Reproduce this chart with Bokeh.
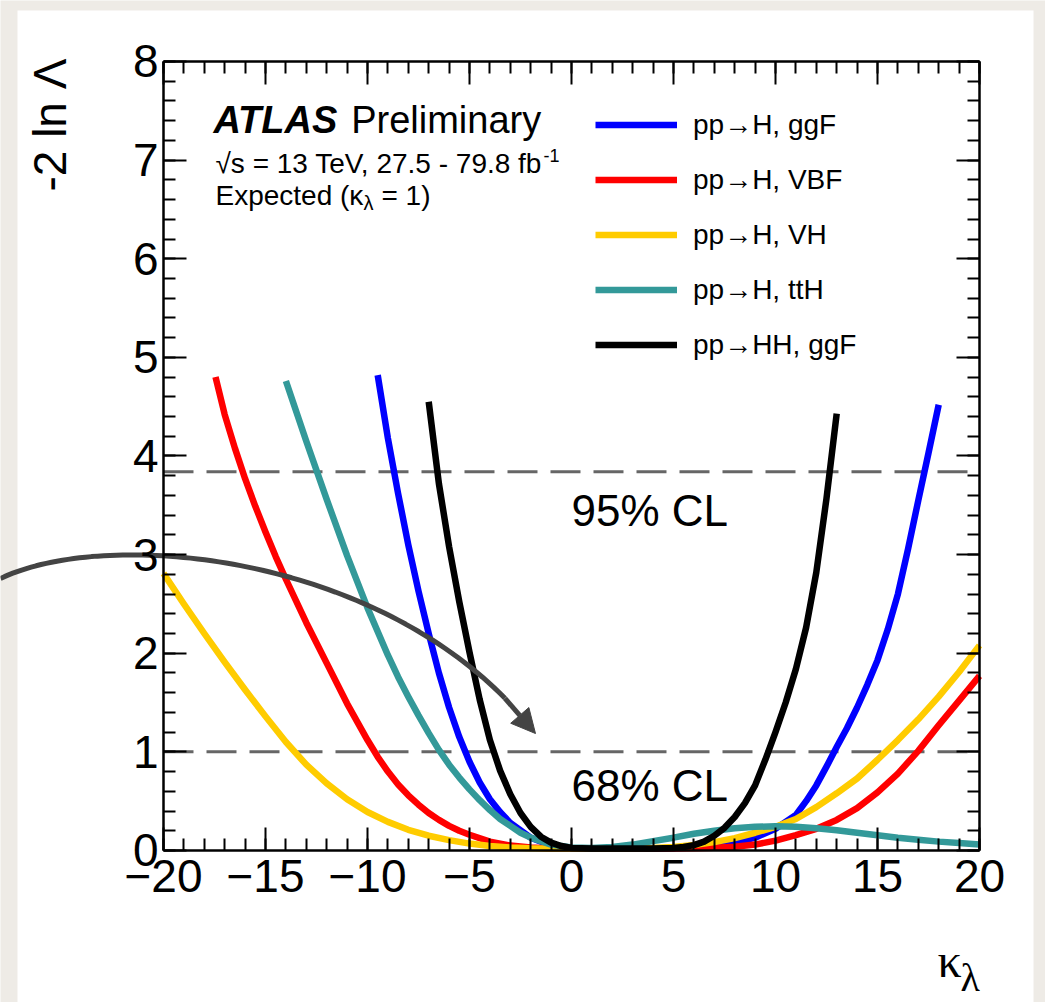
import numpy as np
from bokeh.plotting import figure
from bokeh.models import (Range1d, LinearAxis, FixedTicker, Label, Legend, LegendItem,
                          Arrow, NormalHead, CustomJSTickFormatter)
from bokeh.embed import file_html
from bokeh.resources import INLINE

# ---------------- data ----------------
# pp -> H, ggF
k_ggF = [-9.5, -9, -8.5, -8, -7.5, -7, -6.5, -6, -5.5, -5, -4.5, -4, -3.5, -3, -2, -1, 0, 1, 2,
         3, 4, 5, 6, 7, 8, 9, 10, 11, 11.5, 12, 12.5, 13, 13.5, 14, 14.5, 15, 15.5, 16, 16.5,
         17, 17.5, 18]
nll_ggF = [4.82, 4.18, 3.62, 3.10, 2.63, 2.20, 1.80, 1.45, 1.15, 0.90, 0.69, 0.52, 0.39, 0.28,
           0.13, 0.05, 0.025, 0.02, 0.02, 0.02, 0.02, 0.022, 0.03, 0.045, 0.075, 0.13, 0.22, 0.36,
           0.50, 0.66, 0.85, 1.05, 1.24, 1.45, 1.68, 1.93, 2.24, 2.60, 3.06, 3.55, 4.03, 4.52]

# pp -> H, VBF
k_VBF = [-17.45, -17, -16.5, -16, -15.5, -15, -14.5, -14, -13, -12, -11, -10, -9.5, -9, -8.5,
         -8, -7.5, -7, -6.5, -6, -5.5, -5, -4, -3, -2, -1, 0, 1, 2, 3, 4, 5, 6, 7, 8, 9, 10, 11,
         12, 13, 14, 15, 16, 17, 18, 19, 20]
nll_VBF = [4.80, 4.42, 4.08, 3.77, 3.49, 3.23, 2.98, 2.75, 2.31, 1.90, 1.49, 1.12, 0.95, 0.80,
           0.67, 0.56, 0.465, 0.38, 0.31, 0.25, 0.20, 0.16, 0.09, 0.05, 0.03, 0.02, 0.02, 0.02,
           0.02, 0.02, 0.02, 0.02, 0.022, 0.027, 0.038, 0.06, 0.10, 0.155, 0.22, 0.31, 0.43,
           0.59, 0.78, 1.01, 1.27, 1.52, 1.77]

# pp -> H, VH
k_VH = [-20, -19, -18, -17, -16, -15, -14, -13, -12, -11, -10, -9, -8, -7, -6, -5, -4, -3, -2,
        -1, 0, 1, 2, 3, 4, 5, 6, 7, 8, 9, 10, 11, 12, 13, 14, 15, 16, 17, 18, 19, 20]
nll_VH = [2.81, 2.50, 2.20, 1.91, 1.63, 1.36, 1.10, 0.87, 0.68, 0.52, 0.39, 0.29, 0.21, 0.15,
          0.105, 0.07, 0.045, 0.03, 0.022, 0.02, 0.02, 0.02, 0.02, 0.022, 0.026, 0.035, 0.055,
          0.085, 0.125, 0.18, 0.24, 0.32, 0.44, 0.58, 0.73, 0.92, 1.12, 1.33, 1.56, 1.81, 2.08]

# pp -> H, ttH
k_ttH = [-14, -13, -12, -11, -10, -9, -8.5, -8, -7.5, -7, -6.5, -6, -5.5, -5, -4.5, -4, -3.5,
         -3, -2.5, -2, -1, 0, 1, 2, 3, 4, 5, 6, 7, 8, 9, 10, 11, 12, 13, 14, 15, 16, 17, 18,
         19, 20]
nll_ttH = [4.76, 4.15, 3.56, 2.99, 2.46, 1.98, 1.76, 1.56, 1.37, 1.19, 1.02, 0.87, 0.74, 0.62,
           0.51, 0.41, 0.32, 0.25, 0.18, 0.13, 0.06, 0.03, 0.025, 0.035, 0.06, 0.095, 0.13, 0.17,
           0.20, 0.225, 0.24, 0.245, 0.24, 0.225, 0.205, 0.18, 0.155, 0.13, 0.11, 0.09, 0.075,
           0.06]

# pp -> HH, ggF
k_HH = [-7.0, -6.5, -6.0, -5.5, -5.0, -4.5, -4.0, -3.5, -3.0, -2.5, -2.0, -1.5, -1.0, -0.5, 0,
        1, 2, 3, 4, 5, 5.5, 6, 6.5, 7, 7.5, 8, 8.5, 9, 9.5, 10, 10.5, 11, 11.5, 12, 12.5, 13.0]
nll_HH = [4.55, 3.72, 3.08, 2.52, 2.01, 1.53, 1.12, 0.81, 0.57, 0.38, 0.24, 0.14, 0.08, 0.045,
          0.025, 0.02, 0.02, 0.02, 0.02, 0.025, 0.035, 0.055, 0.09, 0.15, 0.23, 0.34, 0.48, 0.66,
          0.92, 1.20, 1.50, 1.84, 2.26, 2.82, 3.57, 4.43]

series_labels = ["pp\u2192H, ggF", "pp\u2192H, VBF", "pp\u2192H, VH", "pp\u2192H, ttH", "pp\u2192HH, ggF"]
series_colors = ["#0000ff", "#ff0000", "#ffcc00", "#339999", "#000000"]

x_lim = [-20, 20]
y_lim = [0, 8]
x_ticks = [-20, -15, -10, -5, 0, 5, 10, 15, 20]
x_tick_labels = ["\u221220", "\u221215", "\u221210", "\u22125", "0", "5", "10", "15", "20"]
x_minor = list(range(-20, 21))
y_ticks = [0, 1, 2, 3, 4, 5, 6, 7, 8]
y_tick_labels = ["0", "1", "2", "3", "4", "5", "6", "7", "8"]
y_minor = [round(0.2 * i, 1) for i in range(41)]

cl_levels = [3.84, 1.0]
cl_texts = ["95% CL", "68% CL"]

# slide annotation: curved arrow (Bezier control points, data units)
arrow_ctrl_x = [-27.99, -22.60, -8.382, -1.765]
arrow_ctrl_y = [2.758, 3.295, 2.991, 1.186]

FONT = "Liberation Sans"
GRAY = "#eeebe6"

# The whole canvas is the frame; the data box (-20..20, 0..8) sits where the reference has it.
W, H = 1045, 1002
p = figure(width=W, height=H,
           x_range=Range1d(-27.990, 23.235), y_range=Range1d(-1.5412, 8.6185),
           x_axis_location=None, y_axis_location=None,
           output_backend="svg", toolbar_location=None,
           min_border=0, min_border_left=0, min_border_right=0, min_border_top=0, min_border_bottom=0,
           background_fill_color=GRAY, border_fill_color=GRAY, outline_line_color=None)
p.grid.visible = False

# white slide panel
p.quad(left=[-27.157], right=[22.647], bottom=[-3.0], top=[8.517],
       fill_color="white", line_color=None)


def make_axis(fixed, bounds, ticks, minor, labels, standoff):
    ax = LinearAxis(fixed_location=fixed, bounds=tuple(bounds))
    ax.ticker = FixedTicker(ticks=ticks, minor_ticks=minor)
    ax.axis_line_color = "black"
    ax.axis_line_width = 2.5
    ax.major_tick_in = 23
    ax.major_tick_out = 0
    ax.minor_tick_in = 12
    ax.minor_tick_out = 0
    ax.major_tick_line_color = "black"
    ax.major_tick_line_width = 2
    ax.minor_tick_line_color = "black"
    ax.minor_tick_line_width = 2
    if labels is None:
        ax.formatter = CustomJSTickFormatter(code="return ''")
        ax.major_label_text_font_size = "1px"
    else:
        ax.major_label_overrides = dict(zip(ticks, labels))
        ax.major_label_text_font = FONT
        ax.major_label_text_font_size = "46px"
        ax.major_label_text_color = "black"
        ax.major_label_standoff = standoff
    return ax


p.add_layout(make_axis(y_lim[0], x_lim, x_ticks, x_minor, x_tick_labels, 10), "below")
p.add_layout(make_axis(x_lim[0], y_lim, y_ticks, y_minor, y_tick_labels, 5), "left")
p.add_layout(make_axis(y_lim[1], x_lim, x_ticks, x_minor, None, 0), "above")
p.add_layout(make_axis(x_lim[1], y_lim, y_ticks, y_minor, None, 0), "right")

# confidence level lines
for lev in cl_levels:
    p.line(x_lim, [lev, lev], line_color="#666666", line_width=3, line_dash="30 13")

# curves
data = [(k_ggF, nll_ggF), (k_VBF, nll_VBF), (k_VH, nll_VH), (k_ttH, nll_ttH), (k_HH, nll_HH)]
renderers = []
for (kx, ky), col in zip(data, series_colors):
    r = p.line(kx, ky, line_color=col, line_width=6.5, line_join="round")
    renderers.append(r)

legend = Legend(items=[LegendItem(label=lab, renderers=[r]) for lab, r in zip(series_labels, renderers)],
                location=(595, 630), orientation="vertical",
                glyph_width=82, glyph_height=55, spacing=0, padding=0, margin=0,
                label_standoff=16, border_line_alpha=0, background_fill_alpha=0,
                label_text_font=FONT, label_text_font_size="28px", label_text_color="black")
p.add_layout(legend)


def text(x, y, s, size, font=FONT, style="normal", **kw):
    p.add_layout(Label(x=x, y=y, text=s, text_font=font, text_font_size=size,
                       text_font_style=style, text_baseline="middle", text_color="black", **kw))


# CL texts
for txt, ty in zip(cl_texts, [3.447, 0.659]):
    text(0.0, ty, txt, "44px")

# ATLAS texts
text(-17.549, 7.402, "ATLAS", "38px", style="bold italic")
text(-10.80, 7.402, "Preliminary", "38px")
text(-17.451, 6.966, "\u221as = 13 TeV, 27.5 - 79.8 fb", "28px")
text(-1.373, 7.047, "-1", "18px")
text(-17.451, 6.646, "Expected (\u03ba", "28px")
text(-10.196, 6.570, "\u03bb", "20px")
text(-9.314, 6.646, "= 1)", "28px")

# axis titles
text(-25.588, 8.030, "-2 ln \u039b", "46px", angle=np.pi / 2, text_align="right")
text(17.941, -1.115, "\u03ba", "48px", font="Liberation Serif")
text(19.069, -1.288, "\u03bb", "40px", font="Liberation Serif")

# curved arrow
cx = np.array(arrow_ctrl_x)
cy = np.array(arrow_ctrl_y)


def bez(t):
    b = np.array([(1 - t) ** 3, 3 * (1 - t) ** 2 * t, 3 * (1 - t) * t ** 2, t ** 3])
    return b.T @ cx, b.T @ cy


tt = np.linspace(0.0, 0.93, 80)
ax_, ay_ = bez(tt)
p.line(ax_, ay_, line_color="#444444", line_width=5)
xs0, ys0 = bez(np.array([0.93]))
xs1, ys1 = bez(np.array([1.0]))
p.add_layout(Arrow(end=NormalHead(size=24, fill_color="#444444", line_color="#444444", line_width=1),
                   x_start=float(xs0[0]), y_start=float(ys0[0]), x_end=float(xs1[0]), y_end=float(ys1[0]),
                   line_color="#444444", line_width=5))

open("out.html", "w").write(file_html(p, INLINE))
